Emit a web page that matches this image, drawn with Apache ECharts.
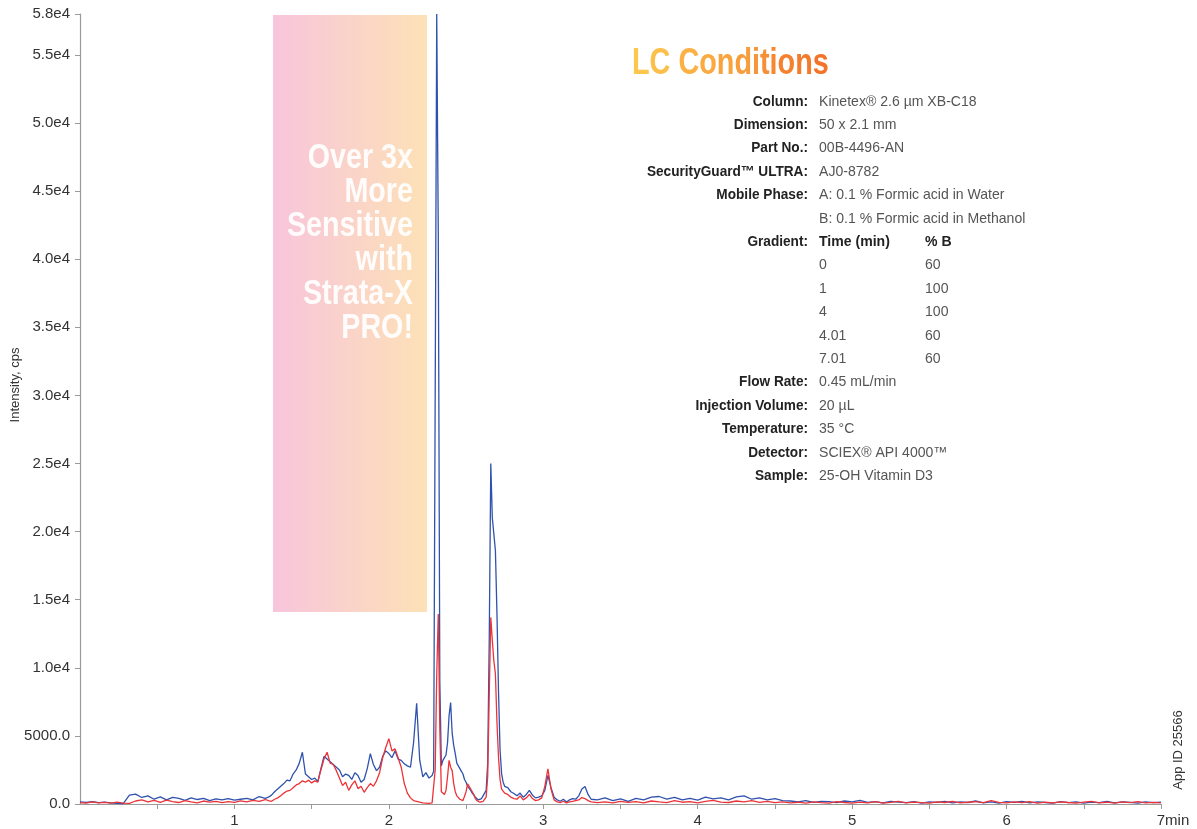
<!DOCTYPE html>
<html>
<head>
<meta charset="utf-8">
<title>25-OH Vitamin D3 chromatogram</title>
<script src="https://cdn.jsdelivr.net/npm/echarts@6/dist/echarts.min.js"></script>
<style>
  html, body { margin: 0; padding: 0; background: #fff; }
  #main { width: 1197px; height: 829px; }
</style>
</head>
<body>
<div id="main"></div>
<script>
// retention time, min
var timeMin = [
  0, 0.04, 0.08, 0.12, 0.16, 0.2, 0.24, 0.28, 0.32, 0.36,
  0.4, 0.44, 0.48, 0.52, 0.56, 0.6, 0.64, 0.68, 0.72, 0.76,
  0.8, 0.84, 0.88, 0.92, 0.96, 1.0, 1.04, 1.08, 1.12, 1.16,
  1.2,
  1.22, 1.24, 1.26, 1.28, 1.30, 1.32, 1.34, 1.36, 1.38, 1.40,
  1.42, 1.44, 1.46, 1.48, 1.50, 1.52, 1.54, 1.56, 1.58, 1.60,
  1.62, 1.64, 1.66, 1.68, 1.70, 1.72, 1.74, 1.76, 1.78, 1.80,
  1.82, 1.84, 1.86, 1.88, 1.90, 1.92, 1.94, 1.96, 1.98, 2.00,
  2.02, 2.04, 2.06, 2.08, 2.10, 2.12, 2.14, 2.16, 2.18, 2.20,
  2.22, 2.24, 2.26, 2.28,
  2.29, 2.30, 2.31, 2.32, 2.33, 2.34, 2.35, 2.36, 2.37, 2.38,
  2.39, 2.40, 2.41, 2.42, 2.43, 2.44, 2.45, 2.46, 2.47, 2.48,
  2.49, 2.50, 2.51, 2.52, 2.53, 2.54, 2.55, 2.56, 2.57, 2.58,
  2.59, 2.60, 2.61, 2.62, 2.63, 2.64, 2.65, 2.66, 2.67, 2.68,
  2.69, 2.70, 2.71, 2.72, 2.73, 2.74, 2.75,
  2.77, 2.79, 2.81, 2.83, 2.85, 2.87, 2.89, 2.91, 2.93, 2.95,
  2.97, 2.99, 3.01, 3.03, 3.05, 3.07, 3.09, 3.11, 3.13, 3.15,
  3.17, 3.19, 3.21, 3.23, 3.25, 3.27, 3.29, 3.31,
  3.35, 3.4, 3.45, 3.5, 3.55, 3.6, 3.65, 3.7, 3.75, 3.8,
  3.85, 3.9, 3.95, 4, 4.05, 4.1, 4.15, 4.2, 4.25, 4.3,
  4.35, 4.4, 4.45, 4.5, 4.55, 4.6, 4.65, 4.7, 4.75, 4.8,
  4.85, 4.9, 4.95, 5, 5.05, 5.1, 5.15, 5.2, 5.25, 5.3,
  5.35, 5.4, 5.45, 5.5, 5.55, 5.6, 5.65, 5.7, 5.75, 5.8,
  5.85, 5.9, 5.95, 6, 6.05, 6.1, 6.15, 6.2, 6.25, 6.3,
  6.35, 6.4, 6.45, 6.5, 6.55, 6.6, 6.65, 6.7, 6.75, 6.8,
  6.85, 6.9, 6.95, 7
];

// Strata-X PRO extract (blue), cps
var blueCps = [
  150, 120, 180, 100, 140, 90, 40, 20, 650, 720,
  480, 600, 350, 520, 300, 480, 420, 260, 450, 330,
  420, 250, 380, 300, 400, 280, 350, 420, 300, 550,
  420,
  500, 650, 900, 1100, 1300, 1500, 1750, 1700, 2200, 2500,
  3000, 3800, 2200, 2000, 1800, 1900, 1650, 2600, 3500, 3300,
  3100, 2900, 2700, 2500, 2000, 2200, 2100, 1800, 2300, 2100,
  1600, 1800, 2600, 3700, 2900, 2450, 2700, 3500, 3900, 3700,
  3400, 3900, 3300, 3200, 2950, 2800, 2700, 4500, 7400, 3200,
  2000, 2300, 1900, 2100,
  2400, 30000, 58000, 42000, 9000, 2800, 3200, 3300, 3600, 4500,
  6500, 7450, 5200, 4300, 3700, 3000, 2900, 2600, 2400, 2200,
  1800, 1600, 1300, 1250, 1000, 800, 700, 500, 400, 300,
  250, 400, 600, 800, 1000, 3000, 12000, 25000, 21000, 19800,
  18600, 14000, 8300, 4000, 2230, 1600, 1300,
  1200, 900, 770, 600, 800, 500, 700, 1000, 650, 450,
  500, 600, 1000, 2100, 1200, 500, 300, 200, 350, 150,
  300, 400, 350, 600, 1100, 1280, 700, 350,
  300, 450, 250, 380, 200, 420, 300, 500, 550, 350,
  480, 300, 420, 280, 500, 380, 450, 300, 520, 600,
  350, 450, 300, 400, 250, 220, 150, 250, 120, 200,
  180, 100, 220, 150, 260, 120, 180, 90, 200, 140,
  100, 180, 60, 150, 120, 200, 80, 160, 110, 220,
  90, 150, 60, 180, 120, 200, 90, 160, 110, 70,
  180, 100, 150, 60, 140, 100, 190, 80, 150, 120,
  70, 160, 100, 130
];

// competitor extract (red), cps
var redCps = [
  100, 60, 150, 80, 120, 70, 130, 60, 50, 220,
  300, 150, 260, 120, 280, 180, 110, 240, 160, 90,
  220, 130, 200, 100, 180, 120, 230, 150, 260, 200,
  330,
  250, 200, 350, 450, 600, 800, 950, 1000, 1200, 1400,
  1500, 1700, 1600, 1750, 1550, 1700, 1600, 2500, 3300, 3800,
  3000, 2900, 2450, 1900, 1350, 1600, 1000, 1400, 1700, 1130,
  1300, 860, 1200, 1500, 1300, 1700, 2300, 3400, 4150, 4800,
  3900, 4050, 3400, 2700, 1500, 800, 450, 250, 200, 130,
  80, 60, 40, 80,
  120, 2500, 9500, 13950, 5500, 900, 800, 700, 1000, 2000,
  3200, 2700, 2450, 1500, 900, 600, 500, 350, 300, 250,
  250, 900, 1480, 1300, 1100, 1000, 700, 400, 250, 150,
  130, 150, 200, 300, 500, 2000, 8000, 13700, 12000, 10500,
  9550, 6000, 3430, 1800, 1100, 1000, 800,
  700, 500, 400, 350, 600, 300, 450, 700, 400, 250,
  300, 450, 1300, 2580, 1100, 300, 150, 100, 200, 80,
  150, 200, 250, 300, 470, 400, 250, 150,
  100, 150, 80, 200, 120, 170, 90, 220, 150, 100,
  250, 130, 180, 90, 200, 260, 140, 110, 220, 150,
  250, 120, 190, 100, 160, 80, 130, 60, 150, 100,
  70, 180, 110, 60, 140, 90, 170, 70, 120, 200,
  90, 140, 100, 60, 150, 110, 200, 80, 130, 170,
  100, 240, 120, 80, 150, 100, 180, 60, 130, 90,
  160, 110, 70, 140, 200, 90, 130, 60, 150, 100,
  170, 80, 120, 90
];

// LC conditions panel text
var condLabels = ['Column:', 'Dimension:', 'Part No.:', 'SecurityGuard\u2122 ULTRA:', 'Mobile Phase:', '',
  'Gradient:', '', '', '', '', '', 'Flow Rate:', 'Injection Volume:', 'Temperature:', 'Detector:', 'Sample:'];
var condValues = ['Kinetex\u00ae 2.6 \u00b5m XB-C18', '50 x 2.1 mm', '00B-4496-AN', 'AJ0-8782',
  'A: 0.1 % Formic acid in Water', 'B: 0.1 % Formic acid in Methanol',
  'Time (min)', '0', '1', '4', '4.01', '7.01', '0.45 mL/min', '20 \u00b5L', '35 \u00b0C',
  'SCIEX\u00ae API 4000\u2122', '25-OH Vitamin D3'];
var gradientB = ['% B', '60', '100', '100', '60', '60'];
var calloutLines = ['Over 3x', 'More', 'Sensitive', 'with', 'Strata-X', 'PRO!'];
var titleText = 'LC Conditions';

var sans = '"Liberation Sans", Arial, sans-serif';
var chart = echarts.init(document.getElementById('main'));

var graphics = [];
// pink-to-peach callout box
graphics.push({
  type: 'rect', z: 0,
  shape: { x: 273, y: 15, width: 154, height: 597 },
  style: {
    fill: new echarts.graphic.LinearGradient(0, 0, 1, 0, [
      { offset: 0, color: '#f7c5dc' },
      { offset: 1, color: '#fde1b6' }
    ])
  }
});
calloutLines.forEach(function (s, i) {
  graphics.push({
    type: 'text', z: 1, x: 413, y: 158 + i * 34, scaleX: 0.82,
    style: { text: s, fill: '#ffffff', opacity: 0.93, font: 'bold 35px ' + sans,
      textAlign: 'right', textVerticalAlign: 'middle' }
  });
});

// title: letters shaded yellow -> orange
function mix(a, b, f) {
  var pa = [parseInt(a.substr(1, 2), 16), parseInt(a.substr(3, 2), 16), parseInt(a.substr(5, 2), 16)];
  var pb = [parseInt(b.substr(1, 2), 16), parseInt(b.substr(3, 2), 16), parseInt(b.substr(5, 2), 16)];
  return 'rgb(' + pa.map(function (v, k) { return Math.round(v + (pb[k] - v) * f); }).join(',') + ')';
}
var titleRich = {};
var titleStr = '';
titleText.split('').forEach(function (ch, i) {
  var key = 'c' + i;
  titleRich[key] = { fill: mix('#fdc64c', '#f37329', i / (titleText.length - 1)), font: 'bold 36px ' + sans };
  titleStr += ch === ' ' ? ' ' : '{' + key + '|' + ch + '}';
});
graphics.push({
  type: 'text', x: 632, y: 64, scaleX: 0.8,
  style: { text: titleStr, rich: titleRich, font: 'bold 36px ' + sans, textVerticalAlign: 'middle' }
});

condLabels.forEach(function (s, i) {
  var y = 101.5 + i * 23.4;
  if (s) {
    graphics.push({ type: 'text', x: 808, y: y, scaleX: 0.94,
      style: { text: s, font: 'bold 14.5px ' + sans, fill: '#222', textAlign: 'right', textVerticalAlign: 'middle' } });
  }
  graphics.push({ type: 'text', x: 819, y: y, scaleX: 0.97,
    style: { text: condValues[i], font: (i === 6 ? 'bold ' : '') + '14.5px ' + sans,
      fill: i === 6 ? '#222' : '#555', textVerticalAlign: 'middle' } });
});
gradientB.forEach(function (s, i) {
  graphics.push({ type: 'text', x: 925, y: 101.5 + (6 + i) * 23.4, scaleX: 0.97,
    style: { text: s, font: (i === 0 ? 'bold ' : '') + '14.5px ' + sans,
      fill: i === 0 ? '#222' : '#555', textVerticalAlign: 'middle' } });
});
graphics.push({ type: 'text', x: 15, y: 385, rotation: Math.PI / 2,
  style: { text: 'Intensity, cps', font: '13px ' + sans, fill: '#333',
    textAlign: 'center', textVerticalAlign: 'middle' } });
graphics.push({ type: 'text', x: 1178, y: 750, rotation: Math.PI / 2,
  style: { text: 'App ID 25566', font: '13px ' + sans, fill: '#333',
    textAlign: 'center', textVerticalAlign: 'middle' } });

var option = {
  animation: false,
  backgroundColor: '#ffffff',
  grid: { left: 80, right: 36, top: 14, bottom: 25 },
  xAxis: {
    type: 'value', min: 0, max: 7, interval: 0.5,
    axisLine: { lineStyle: { color: '#9a9a9a', width: 1.2 } },
    axisTick: { show: true, length: 5, lineStyle: { color: '#9a9a9a' } },
    splitLine: { show: false },
    axisLabel: {
      margin: 9, color: '#333', fontSize: 15, fontFamily: sans,
      showMinLabel: false,
      formatter: function (v) {
        if (v === 7) return '{p|}7min';
        if (v > 0 && Math.abs(v - Math.round(v)) < 1e-6) return String(Math.round(v));
        return '';
      },
      rich: { p: { width: 24 } }
    }
  },
  yAxis: {
    type: 'value', min: 0, max: 58000, interval: 5000,
    axisLine: { show: true, lineStyle: { color: '#9a9a9a', width: 1.2 } },
    axisTick: { show: true, length: 5, lineStyle: { color: '#9a9a9a' } },
    splitLine: { show: false },
    axisLabel: {
      margin: 10, color: '#333', fontSize: 15, fontFamily: sans,
      formatter: function (v) {
        if (v === 0) return '0.0';
        if (v < 10000) return v.toFixed(1);
        return (v / 10000).toFixed(1) + 'e4';
      }
    }
  },
  graphic: graphics,
  series: [
    {
      name: 'Strata-X PRO', type: 'line', showSymbol: false, z: 3,
      data: timeMin.map(function (t, i) { return [t, blueCps[i]]; }),
      lineStyle: { color: '#2f52ad', width: 1.3 }
    },
    {
      name: 'Other', type: 'line', showSymbol: false, z: 4,
      data: timeMin.map(function (t, i) { return [t, redCps[i]]; }),
      lineStyle: { color: '#ec3338', width: 1.3 }
    }
  ]
};
chart.setOption(option);
</script>
</body>
</html>
